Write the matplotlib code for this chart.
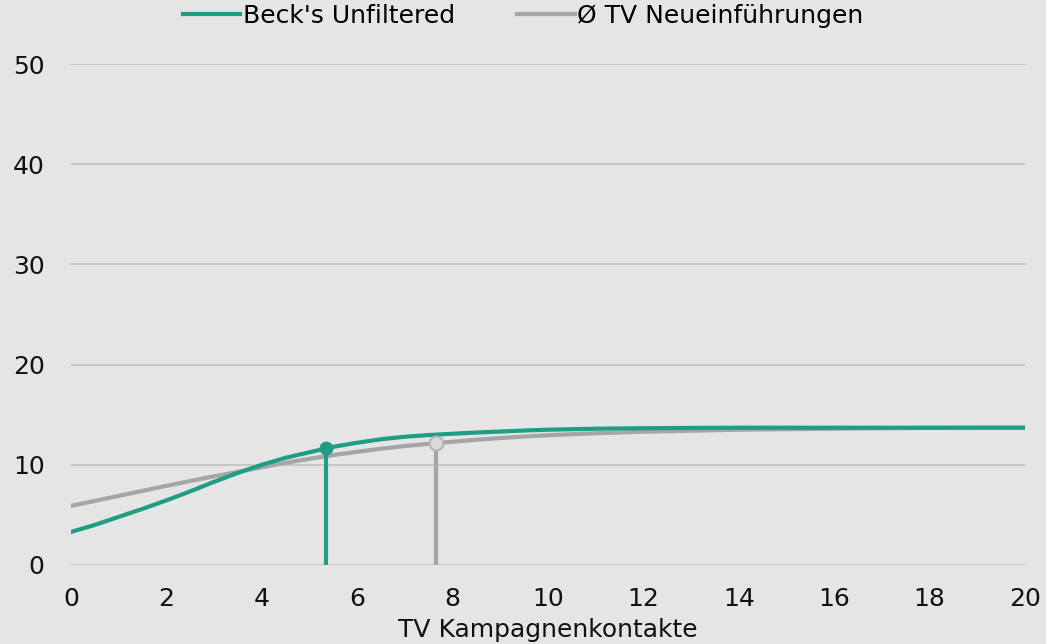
import numpy as np
import matplotlib.pyplot as plt

# curve values (half steps where the curves bend)
x_vals = [0, 0.5, 1, 1.5, 2, 2.5, 3, 3.5, 4, 4.5, 5, 5.5, 6, 6.5, 7, 7.5, 8, 8.5, 9,
          9.5, 10, 11, 12, 13, 14, 15, 16, 17, 18, 19, 20]
becks = [3.3, 4.0, 4.8, 5.6, 6.45, 7.35, 8.3, 9.2, 10.0, 10.7, 11.25, 11.8, 12.2,
         12.55, 12.8, 12.97, 13.1, 13.22, 13.32, 13.42, 13.5, 13.6, 13.65, 13.68,
         13.7, 13.7, 13.7, 13.7, 13.7, 13.7, 13.7]
avg_tv = [5.9, 6.4, 6.9, 7.4, 7.9, 8.38, 8.85, 9.3, 9.75, 10.2, 10.6, 10.97, 11.3,
          11.6, 11.87, 12.1, 12.3, 12.5, 12.67, 12.82, 12.95, 13.15, 13.3, 13.4,
          13.5, 13.55, 13.6, 13.65, 13.68, 13.7, 13.7]

# optimum markers
becks_opt = (5.35, 11.65)
avg_opt = (7.65, 12.15)

green = '#1f9e84'
grey = '#a6a6a6'
bg = '#e5e5e5'
txt = '#111111'

plt.rcParams['font.family'] = ['DejaVu Sans']

fig = plt.figure(figsize=(10.46, 6.44), dpi=100, facecolor=bg)
ax = fig.add_axes([0.0679, 0.1227, 0.9121, 0.7779])
ax.set_facecolor(bg)

ax.plot(x_vals, becks, color=green, lw=3, label="Beck's Unfiltered", zorder=4)
ax.plot(x_vals, avg_tv, color=grey, lw=3, label='Ø TV Neueinführungen', zorder=3)

ax.plot([becks_opt[0]] * 2, [0, becks_opt[1]], color=green, lw=3, zorder=4,
        solid_capstyle='butt')
ax.plot([avg_opt[0]] * 2, [0, avg_opt[1]], color=grey, lw=3, zorder=3,
        solid_capstyle='butt')
ax.plot(*becks_opt, 'o', ms=9, color=green, zorder=5)
ax.plot(*avg_opt, 'o', ms=10, mfc='#d9d9d9', mec='#b5b5b5', mew=1.5, zorder=5)

ax.set_xlim(0, 20)
ax.set_ylim(0, 50)
ax.set_xticks(range(0, 21, 2))
ax.set_yticks(range(0, 51, 10))
ax.grid(axis='y', color='#c2c2c2', lw=1.2)
ax.set_axisbelow(True)
for s in ax.spines.values():
    s.set_visible(False)
ax.tick_params(length=0, labelsize=18, colors=txt)
ax.tick_params(axis='y', pad=19)
ax.tick_params(axis='x', pad=16)

ax.set_xlabel('TV Kampagnenkontakte', fontsize=18, color=txt, labelpad=5)

fig.legend(loc='center', bbox_to_anchor=(0.5, 0.975), ncol=2, frameon=False,
           fontsize=18, handlelength=2.3, handletextpad=0.1, columnspacing=2.5)

fig.savefig('out.png', dpi=100, facecolor=bg)
